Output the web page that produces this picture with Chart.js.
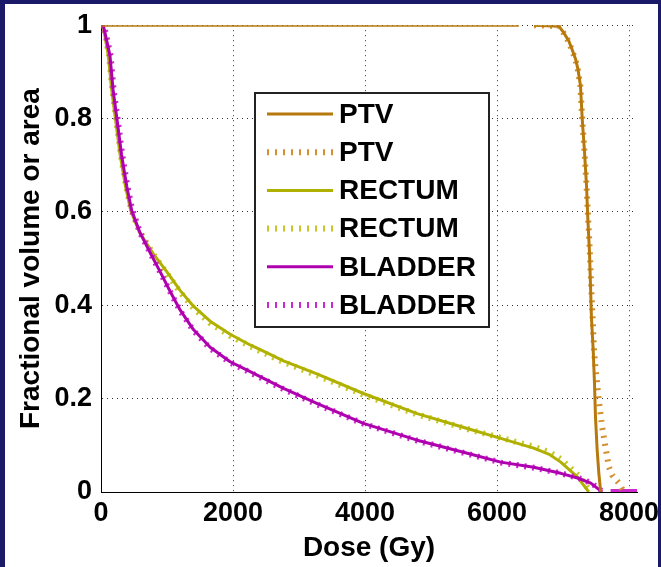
<!DOCTYPE html>
<html>
<head>
<meta charset="utf-8">
<script src="https://cdn.jsdelivr.net/npm/chart.js@4.4.1/dist/chart.umd.min.js"></script>
<style>
  html, body { margin: 0; padding: 0; background: #1b1a68; overflow: hidden; }
  canvas { display: block; }
</style>
</head>
<body>
<canvas id="dvh" width="661" height="567"></canvas>
<script>
// ticks
const xTicks = [0, 2000, 4000, 6000, 8000];
const yTicks = [0, 0.2, 0.4, 0.6, 0.8, 1];

// PTV (calculado, linea continua)
const ptvDose = [0, 6330, 6445, 6560, 6935, 7010, 7087, 7137, 7190, 7225, 7264, 7290, 7325, 7355, 7375, 7400, 7415, 7430, 7457, 7476, 7491, 7517, 7542, 7567, 7575];
const ptvVol  = [1, 1, null, 1, 0.998, 0.984, 0.966, 0.948, 0.927, 0.906, 0.870, 0.800, 0.728, 0.657, 0.586, 0.515, 0.445, 0.373, 0.302, 0.232, 0.161, 0.089, 0.040, 0.004, 0];
// PTV (medido, punteado)
const ptvMedDose = [6560, 6935, 7005, 7080, 7130, 7185, 7222, 7262, 7290, 7325, 7355, 7380, 7405, 7425, 7448, 7470, 7490, 7542, 7593, 7643, 7693, 7745, 7846, 7920];
const ptvMedVol  = [1, 0.998, 0.984, 0.966, 0.948, 0.927, 0.906, 0.870, 0.800, 0.728, 0.657, 0.586, 0.515, 0.445, 0.373, 0.302, 0.267, 0.196, 0.139, 0.096, 0.054, 0.036, 0.019, 0];

// RECTUM
const recDose = [0, 30, 110, 160, 215, 290, 370, 450, 580, 793, 996, 1198, 1400, 1653, 1956, 2260, 2563, 2765, 3270, 3975, 4790, 5550, 6055, 6555, 6800, 6965, 7220, 7390];
const recVol  = [1, 1, 0.935, 0.863, 0.803, 0.722, 0.655, 0.603, 0.557, 0.510, 0.472, 0.432, 0.398, 0.366, 0.338, 0.315, 0.295, 0.281, 0.253, 0.211, 0.168, 0.136, 0.115, 0.094, 0.080, 0.064, 0.032, 0];
const recMedDose = [0, 40, 120, 170, 225, 300, 380, 460, 590, 800, 1000, 1200, 1400, 1650, 1950, 2260, 2560, 2770, 3270, 3980, 4790, 5550, 6060, 6560, 6800, 6970, 7230, 7420];
const recMedVol  = [1, 1, 0.935, 0.863, 0.803, 0.722, 0.655, 0.603, 0.557, 0.508, 0.468, 0.428, 0.394, 0.362, 0.335, 0.312, 0.292, 0.278, 0.250, 0.208, 0.166, 0.135, 0.116, 0.097, 0.085, 0.070, 0.036, 0];

// BLADDER
const vejDose = [0, 35, 136, 182, 238, 312, 390, 465, 592, 743, 895, 1046, 1198, 1400, 1653, 1956, 2260, 2765, 3270, 3975, 4790, 5550, 6055, 6555, 6965, 7220, 7420, 7593];
const vejVol  = [1, 1, 0.935, 0.863, 0.803, 0.722, 0.655, 0.603, 0.555, 0.513, 0.472, 0.430, 0.390, 0.348, 0.310, 0.279, 0.258, 0.222, 0.190, 0.147, 0.111, 0.083, 0.064, 0.053, 0.040, 0.030, 0.019, 0];
const vejMedDose = [0, 45, 145, 190, 248, 322, 400, 475, 600, 750, 900, 1050, 1200, 1400, 1650, 1960, 2260, 2770, 3270, 3980, 4790, 5550, 6060, 6560, 6970, 7230, 7430, 7600, 7660, 7720, 8120];
const vejMedVol  = [1, 1, 0.935, 0.863, 0.803, 0.722, 0.655, 0.603, 0.553, 0.511, 0.470, 0.428, 0.388, 0.346, 0.308, 0.277, 0.256, 0.220, 0.188, 0.146, 0.110, 0.082, 0.063, 0.052, 0.040, 0.030, 0.019, 0, null, 0, 0];

function pares(dosis, vol) {
    return dosis.map((d, i) => ({ x: d, y: vol[i] }));
}

document.addEventListener('DOMContentLoaded', function () {
    const fuente = "'Liberation Sans', Arial, sans-serif";
    Chart.defaults.font.family = fuente;
    Chart.defaults.font.weight = 'bold';
    Chart.defaults.color = '#000';

    const punteado = [2, 6];

    // fondo azul con el recuadro blanco
    const fondo = {
        id: 'fondo',
        beforeDraw(chart) {
            const c = chart.ctx;
            c.save();
            c.fillStyle = '#1b1a68';
            c.fillRect(0, 0, chart.width, chart.height);
            c.fillStyle = '#ffffff';
            c.fillRect(5, 4, chart.width - 8, chart.height - 4);
            c.restore();
        }
    };

    // leyenda dentro del area del grafico, como en matlab
    const leyenda = {
        id: 'leyenda',
        afterDraw(chart) {
            const c = chart.ctx;
            const x0 = 255, y0 = 93, w = 234, h = 234;
            c.save();
            c.fillStyle = '#fff';
            c.fillRect(x0, y0, w, h);
            c.lineWidth = 2;
            c.strokeStyle = '#222';
            c.strokeRect(x0, y0, w, h);
            chart.data.datasets.forEach((ds, i) => {
                const y = y0 + 21 + i * 38.2;
                c.beginPath();
                c.strokeStyle = ds.borderColor;
                if (ds.borderDash && ds.borderDash.length) {
                    c.lineWidth = 6;
                    c.setLineDash(punteado);
                } else {
                    c.lineWidth = 3;
                    c.setLineDash([]);
                }
                c.moveTo(267, y);
                c.lineTo(333, y);
                c.stroke();
                c.setLineDash([]);
                c.fillStyle = '#000';
                c.font = 'bold 28px ' + fuente;
                c.textBaseline = 'middle';
                c.textAlign = 'left';
                c.fillText(ds.label, 339, y + 1);
            });
            c.restore();
        }
    };

    const ctx = document.getElementById('dvh').getContext('2d');
    new Chart(ctx, {
        type: 'line',
        data: {
            datasets: [
                { label: 'PTV', data: pares(ptvDose, ptvVol), borderColor: '#b8790c', borderWidth: 3, order: 0 },
                { label: 'PTV', data: pares(ptvMedDose, ptvMedVol), borderColor: '#d4902e', borderWidth: 6, borderDash: punteado, order: 1 },
                { label: 'RECTUM', data: pares(recDose, recVol), borderColor: '#b0b000', borderWidth: 3, order: 4 },
                { label: 'RECTUM', data: pares(recMedDose, recMedVol), borderColor: '#c6c628', borderWidth: 6, borderDash: punteado, order: 5 },
                { label: 'BLADDER', data: pares(vejDose, vejVol), borderColor: '#ae00ae', borderWidth: 3, order: 2 },
                {
                    label: 'BLADDER', data: pares(vejMedDose, vejMedVol), borderColor: '#cc28cc', borderWidth: 6, borderDash: punteado, order: 3,
                    // tramo plano en cero se ve como barra continua
                    segment: { borderDash: s => (s.p0.parsed.y === 0 && s.p1.parsed.y === 0) ? [] : undefined }
                }
            ]
        },
        options: {
            responsive: false,
            animation: false,
            devicePixelRatio: 1,
            spanGaps: false,
            elements: {
                point: { radius: 0 },
                line: { tension: 0, borderCapStyle: 'butt', borderJoinStyle: 'round' }
            },
            layout: { padding: { top: 22, right: 24, left: 0, bottom: 0 } },
            plugins: {
                legend: { display: false },
                tooltip: { enabled: false }
            },
            scales: {
                x: {
                    type: 'linear',
                    min: 0,
                    max: 8120,
                    afterBuildTicks: s => { s.ticks = xTicks.map(v => ({ value: v })); },
                    afterFit: s => { s.height = 75; s.paddingRight = 0; s.paddingLeft = 0; },
                    ticks: { font: { size: 27, weight: 'bold' }, padding: 5, maxRotation: 0, autoSkip: false, callback: v => String(v) },
                    grid: { color: '#333', lineWidth: 1, drawTicks: false },
                    border: { color: '#000', width: 1, dash: [1, 4] },
                    title: { display: true, text: 'Dose (Gy)', font: { size: 28, weight: 'bold' }, padding: { top: 0, bottom: 2 } }
                },
                y: {
                    min: 0,
                    max: 1,
                    afterBuildTicks: s => { s.ticks = yTicks.map(v => ({ value: v })); },
                    afterFit: s => { s.width = 101; },
                    ticks: { font: { size: 27, weight: 'bold' }, padding: 9, callback: v => String(v) },
                    grid: { color: '#333', lineWidth: 1, drawTicks: false },
                    border: { color: '#000', width: 1, dash: [1, 4] },
                    title: { display: true, text: 'Fractional volume or area', font: { size: 28, weight: 'bold' }, padding: { top: 14, bottom: 0 } }
                }
            }
        },
        plugins: [fondo, leyenda]
    });
});
</script>
</body>
</html>
